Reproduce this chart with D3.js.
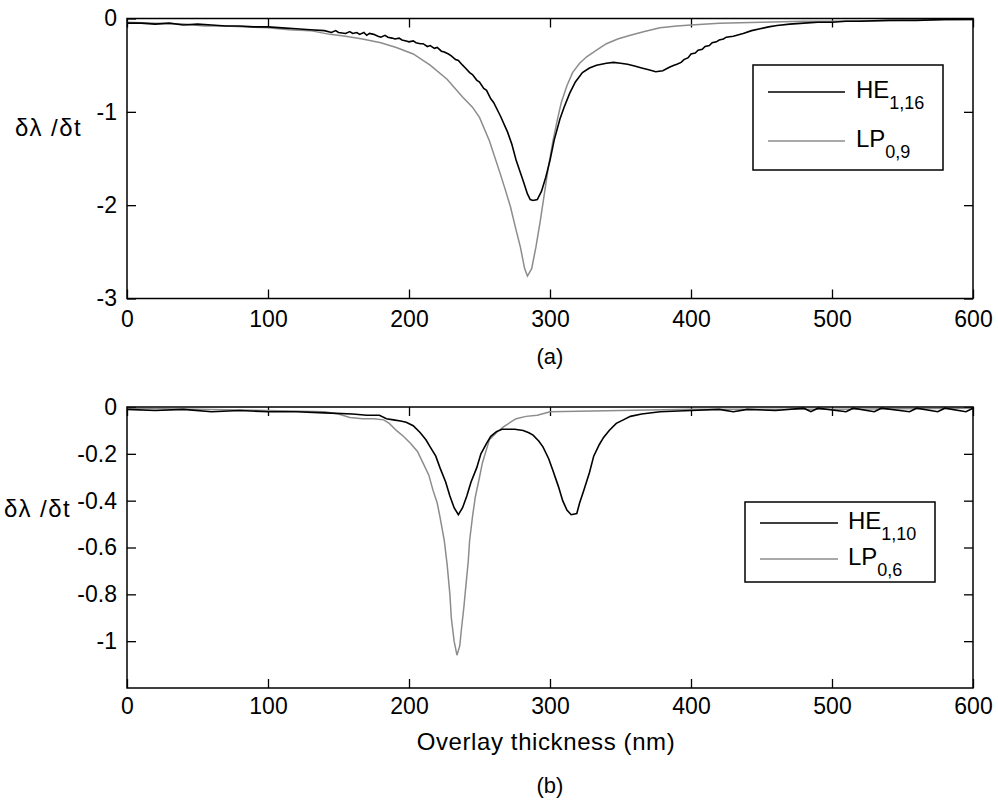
<!DOCTYPE html>
<html>
<head>
<meta charset="utf-8">
<script src="https://cdn.jsdelivr.net/npm/d3@7"></script>
<style>
  html, body { margin: 0; padding: 0; background: #fff; }
  svg { display: block; }
</style>
</head>
<body>
<svg id="chart" width="998" height="805"></svg>
<script>
// ---------------- DATA ----------------
const xTicks = [0, 100, 200, 300, 400, 500, 600];
const yTicksA = [0, -1, -2, -3];
const yTicksB = [0, -0.2, -0.4, -0.6, -0.8, -1];

const legendA = [{ main: "HE", sub: "1,16" }, { main: "LP", sub: "0,9" }];
const legendB = [{ main: "HE", sub: "1,10" }, { main: "LP", sub: "0,6" }];

// Panel (a): HE1,16 (black)
const heA = [
  [0,-0.05],[10,-0.05],[20,-0.06],[30,-0.05],[40,-0.07],[50,-0.06],[60,-0.07],[70,-0.08],
  [80,-0.08],[90,-0.09],[100,-0.09],[110,-0.10],[120,-0.11],[130,-0.12],[140,-0.13],
  [145,-0.15],[148,-0.13],[150,-0.15],[155,-0.16],[158,-0.14],[160,-0.16],[163,-0.15],
  [165,-0.17],[168,-0.15],[170,-0.18],[172,-0.16],[175,-0.17],[178,-0.19],[180,-0.20],
  [183,-0.18],[185,-0.20],[188,-0.21],[190,-0.22],[193,-0.21],[195,-0.23],[198,-0.24],
  [200,-0.25],[203,-0.24],[205,-0.26],[208,-0.27],[210,-0.27],[213,-0.30],[215,-0.29],
  [218,-0.32],[220,-0.31],[223,-0.35],[225,-0.36],[228,-0.38],[230,-0.40],[233,-0.44],
  [235,-0.45],[238,-0.50],[240,-0.53],[243,-0.58],[245,-0.60],[248,-0.66],[250,-0.68],
  [253,-0.75],[255,-0.77],[258,-0.86],[260,-0.90],[265,-1.05],[270,-1.22],[273,-1.35],
  [276,-1.52],[281,-1.74],[284,-1.88],[286,-1.94],[288,-1.95],[291,-1.94],[294,-1.85],
  [297,-1.70],[300,-1.52],[303,-1.30],[307,-1.08],[310,-0.95],[314,-0.80],[318,-0.68],
  [323,-0.58],[328,-0.53],[333,-0.50],[340,-0.48],[345,-0.47],[350,-0.48],[355,-0.49],
  [360,-0.51],[365,-0.53],[370,-0.55],[375,-0.57],[380,-0.56],[385,-0.52],[388,-0.50],
  [390,-0.49],[393,-0.47],[395,-0.44],[398,-0.42],[400,-0.38],[403,-0.37],[405,-0.34],
  [408,-0.33],[410,-0.30],[413,-0.29],[415,-0.26],[418,-0.25],[420,-0.23],[423,-0.22],
  [425,-0.20],[430,-0.19],[437,-0.16],[443,-0.13],[449,-0.11],[455,-0.09],[461,-0.075],
  [470,-0.06],[480,-0.05],[490,-0.04],[500,-0.04],[510,-0.03],[520,-0.03],[540,-0.02],
  [560,-0.02],[580,-0.01],[600,-0.01]
];
// Panel (a): LP0,9 (grey)
const lpA = [
  [0,-0.04],[20,-0.05],[40,-0.06],[55,-0.08],[70,-0.08],[85,-0.09],[100,-0.10],[115,-0.12],
  [130,-0.13],[144,-0.17],[155,-0.19],[167,-0.22],[180,-0.26],[191,-0.31],[203,-0.38],
  [215,-0.50],[227,-0.65],[238,-0.84],[245,-0.95],[250,-1.06],[257,-1.31],[264,-1.63],
  [268,-1.82],[272,-2.02],[276,-2.27],[279,-2.45],[282,-2.68],[284,-2.76],[287,-2.68],
  [290,-2.45],[293,-2.18],[296,-1.88],[299,-1.58],[302,-1.32],[305,-1.10],[308,-0.90],
  [312,-0.72],[316,-0.58],[321,-0.48],[326,-0.41],[333,-0.34],[340,-0.27],[348,-0.22],
  [357,-0.18],[367,-0.14],[378,-0.10],[390,-0.08],[400,-0.07],[420,-0.05],[450,-0.04],
  [480,-0.03],[500,-0.03],[550,-0.02],[600,-0.01]
];

// Panel (b): HE1,10 (black)
const heB = [
  [0,-0.01],[20,-0.015],[40,-0.01],[60,-0.02],[80,-0.015],[100,-0.02],[120,-0.02],
  [140,-0.025],[160,-0.03],[170,-0.035],[179,-0.035],[184,-0.05],[189,-0.055],[194,-0.06],
  [198,-0.065],[203,-0.08],[208,-0.11],[212,-0.14],[215,-0.17],[219,-0.21],[222,-0.26],
  [226,-0.32],[229,-0.38],[232,-0.43],[235,-0.46],[238,-0.43],[241,-0.38],[244,-0.32],
  [248,-0.26],[251,-0.20],[255,-0.155],[258,-0.125],[262,-0.105],[266,-0.095],[270,-0.095],
  [275,-0.095],[281,-0.10],[285,-0.11],[288,-0.12],[292,-0.145],[295,-0.17],[299,-0.22],
  [302,-0.27],[306,-0.34],[309,-0.40],[312,-0.44],[315,-0.46],[319,-0.455],[321,-0.41],
  [324,-0.355],[328,-0.28],[331,-0.21],[335,-0.16],[338,-0.13],[342,-0.10],[347,-0.07],
  [352,-0.055],[357,-0.04],[365,-0.03],[378,-0.02],[400,-0.015],[420,-0.01],[430,-0.02],
  [440,-0.01],[460,-0.015],[480,-0.005],[485,-0.02],[490,-0.005],[510,-0.02],[515,-0.005],
  [530,-0.02],[535,-0.005],[555,-0.02],[560,-0.005],[575,-0.02],[580,-0.005],[595,-0.02],
  [600,-0.005]
];
// Panel (b): LP0,6 (grey)
const lpB = [
  [0,-0.005],[50,-0.01],[100,-0.015],[140,-0.02],[150,-0.03],[158,-0.045],[167,-0.05],
  [175,-0.05],[182,-0.055],[186,-0.07],[191,-0.10],[196,-0.125],[201,-0.155],[206,-0.19],
  [210,-0.24],[214,-0.29],[217,-0.355],[220,-0.41],[222,-0.47],[225,-0.57],[227,-0.67],
  [229,-0.80],[230,-0.90],[232,-1.00],[234,-1.06],[236,-1.02],[237,-0.96],[239,-0.85],
  [240,-0.785],[242,-0.66],[243,-0.57],[245,-0.47],[247,-0.385],[250,-0.30],[252,-0.24],
  [255,-0.18],[257,-0.14],[262,-0.11],[267,-0.085],[272,-0.065],[276,-0.05],[283,-0.04],
  [291,-0.035],[300,-0.02],[350,-0.015],[400,-0.01],[500,-0.01],[600,-0.005]
];

// ---------------- DRAW ----------------
const FONT = "'Liberation Sans', Arial, Helvetica, sans-serif";
const BLACK = "#000";
const GREY = "#8c8c8c";
const svg = d3.select("#chart");

function panel(cfg) {
  const x = d3.scaleLinear().domain([0, 600]).range([cfg.left, cfg.right]);
  const y = d3.scaleLinear().domain(cfg.yDomain).range([cfg.bottom, cfg.top]);
  const g = svg.append("g");
  const fmt = d => String(d);

  const styleAxis = sel => {
    sel.select(".domain").remove();
    sel.selectAll(".tick line").attr("stroke", "#000").attr("stroke-width", 1.3);
    sel.attr("font-family", FONT).attr("font-size", 23);
    sel.selectAll("text").attr("fill", "#000");
  };

  g.append("g").attr("transform", `translate(0,${cfg.bottom})`)
    .call(d3.axisBottom(x).tickValues(xTicks).tickFormat(fmt).tickSizeInner(-9).tickSizeOuter(0).tickPadding(cfg.xPad))
    .call(styleAxis);
  g.append("g").attr("transform", `translate(0,${cfg.top})`)
    .call(d3.axisTop(x).tickValues(xTicks).tickFormat("").tickSizeInner(-9).tickSizeOuter(0))
    .call(styleAxis);
  g.append("g").attr("transform", `translate(${cfg.left},0)`)
    .call(d3.axisLeft(y).tickValues(cfg.yTicks).tickFormat(fmt).tickSizeInner(-9).tickSizeOuter(0).tickPadding(10))
    .call(styleAxis);
  g.append("g").attr("transform", `translate(${cfg.right},0)`)
    .call(d3.axisRight(y).tickValues(cfg.yTicks).tickFormat("").tickSizeInner(-9).tickSizeOuter(0))
    .call(styleAxis);

  const line = d3.line().x(d => x(d[0])).y(d => y(d[1]));
  g.append("path").datum(cfg.grey).attr("d", line)
    .attr("fill", "none").attr("stroke", GREY).attr("stroke-width", 1.5);
  g.append("path").datum(cfg.black).attr("d", line)
    .attr("fill", "none").attr("stroke", BLACK).attr("stroke-width", 1.6);

  // frame
  g.append("rect").attr("x", cfg.left).attr("y", cfg.top)
    .attr("width", cfg.right - cfg.left).attr("height", cfg.bottom - cfg.top)
    .attr("fill", "none").attr("stroke", "#000").attr("stroke-width", 1.5);

  // y label
  g.append("text").attr("x", cfg.yLabelX).attr("y", cfg.yLabelY)
    .attr("font-family", FONT).attr("font-size", 24).attr("letter-spacing", 1.5)
    .text("δλ /δt");

  // legend
  const L = cfg.legend;
  g.append("rect").attr("x", L.x).attr("y", L.y).attr("width", L.w).attr("height", L.h)
    .attr("fill", "#fff").attr("stroke", "#000").attr("stroke-width", 1.5);
  cfg.legendItems.forEach((item, i) => {
    const ly = L.rows[i];
    g.append("line").attr("x1", L.lx1).attr("x2", L.lx2).attr("y1", ly).attr("y2", ly)
      .attr("stroke", i === 0 ? BLACK : GREY).attr("stroke-width", 1.5);
    const t = g.append("text").attr("x", L.tx).attr("y", ly + 6)
      .attr("font-family", FONT).attr("font-size", 24);
    t.append("tspan").text(item.main);
    t.append("tspan").attr("font-size", 18).attr("dy", 11).text(item.sub);
  });

  return { x, y };
}

panel({
  left: 127, right: 973, top: 18.5, bottom: 298.5,
  yDomain: [-3, 0], yTicks: yTicksA, xPad: 12,
  black: heA, grey: lpA,
  yLabelX: 15, yLabelY: 136,
  legend: { x: 753, y: 65, w: 190, h: 105, lx1: 768, lx2: 845, tx: 856, rows: [92, 141] },
  legendItems: legendA
});

panel({
  left: 127, right: 973, top: 407, bottom: 688,
  yDomain: [-1.2, 0], yTicks: yTicksB, xPad: 10,
  black: heB, grey: lpB,
  yLabelX: 4, yLabelY: 517,
  legend: { x: 745, y: 502, w: 190, h: 80, lx1: 760, lx2: 838, tx: 848, rows: [523, 559] },
  legendItems: legendB
});

// captions
svg.append("text").attr("x", 550).attr("y", 364).attr("text-anchor", "middle")
  .attr("font-family", FONT).attr("font-size", 22).text("(a)");
svg.append("text").attr("x", 546).attr("y", 750).attr("text-anchor", "middle")
  .attr("font-family", FONT).attr("font-size", 24).attr("letter-spacing", 0.6).text("Overlay thickness (nm)");
svg.append("text").attr("x", 550).attr("y", 793).attr("text-anchor", "middle")
  .attr("font-family", FONT).attr("font-size", 22).text("(b)");
</script>
</body>
</html>
